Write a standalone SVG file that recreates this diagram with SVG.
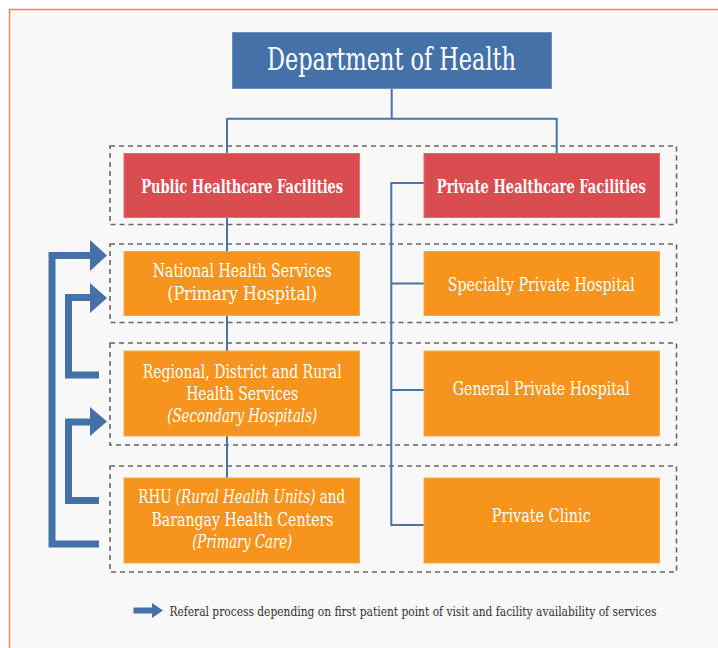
<svg xmlns="http://www.w3.org/2000/svg" width="718" height="648" viewBox="0 0 718 648">
<style>
.t{font-family:"DejaVu Serif Condensed","DejaVu Serif","Liberation Serif",serif;fill:#ffffff;text-anchor:middle;font-size:19px}
.s{text-anchor:start}
.b{font-weight:bold}
.i{font-style:italic}
.red{fill:#d94c4f;stroke:#e46a6c;stroke-width:1}
.org{fill:#f7941d;stroke:#fba94a;stroke-width:1}
.dash{fill:none;stroke:#666666;stroke-width:1.6;stroke-dasharray:5 4}
.ln{fill:none;stroke:#4a73a8;stroke-width:2}
.ref{fill:none;stroke:#4472a8;stroke-width:7;stroke-linejoin:miter}
.head{fill:#4472a8}
</style>
<rect x="9.5" y="9.5" width="720" height="650" fill="#f8f8f8" stroke="#f0845a" stroke-width="1.5"/>

<g id="groups">
<rect class="dash" x="110" y="146" width="566.5" height="78.5"/>
<rect class="dash" x="110" y="244" width="566.5" height="78.5"/>
<rect class="dash" x="110" y="343" width="566.5" height="102"/>
<rect class="dash" x="110" y="466" width="566.5" height="106"/>
</g>

<g id="connectors">
<path class="ln" d="M391.7 88.7 V118.7 M227 118.7 H556.7 M227 118 V478 M556.7 118 V153"/>
<path class="ln" d="M424 183 H391.3 V525 H424 M391.3 283.5 H424 M391.3 390 H424"/>
<path class="ref" d="M99 544 H52 V255.5 H92"/>
<polygon class="head" points="90,240 107,255.5 90,271"/>
<path class="ref" d="M99 375 H68.5 V297.5 H92"/>
<polygon class="head" points="90,283 107,298 90,313"/>
<path class="ref" d="M99 500.5 H68.5 V422 H92"/>
<polygon class="head" points="90,407 107,421.5 90,436"/>
</g>

<g id="doh">
<rect x="232.5" y="32.5" width="319" height="56" fill="#4472a8" stroke="#6d92c2" stroke-width="1"/>
<text class="t" x="391.5" y="70" style="font-size:31px" textLength="249" lengthAdjust="spacingAndGlyphs">Department of Health</text>
</g>

<g id="public">
<rect class="red" x="124" y="153.5" width="235.5" height="64"/>
<text class="t b" x="242.2" y="193" textLength="202" lengthAdjust="spacingAndGlyphs">Public Healthcare Facilities</text>
</g>
<g id="private">
<rect class="red" x="424" y="153.5" width="235.5" height="64"/>
<text class="t b" x="541.3" y="193" textLength="209" lengthAdjust="spacingAndGlyphs">Private Healthcare Facilities</text>
</g>

<g id="national">
<rect class="org" x="124" y="251.5" width="235.5" height="64"/>
<text class="t" x="242.2" y="277" textLength="179" lengthAdjust="spacingAndGlyphs">National Health Services</text>
<text class="t" x="242.2" y="300" textLength="150" lengthAdjust="spacingAndGlyphs">(Primary Hospital)</text>
</g>
<g id="regional">
<rect class="org" x="124" y="351" width="235.5" height="85"/>
<text class="t" x="242.2" y="378" textLength="199" lengthAdjust="spacingAndGlyphs">Regional, District and Rural</text>
<text class="t" x="242.2" y="400" textLength="112" lengthAdjust="spacingAndGlyphs">Health Services</text>
<text class="t i" x="242.2" y="422" textLength="150" lengthAdjust="spacingAndGlyphs">(Secondary Hospitals)</text>
</g>
<g id="rhu">
<rect class="org" x="124" y="478" width="235.5" height="85"/>
<text class="t" transform="translate(241.7 503) scale(0.79 1)" x="0" y="0">RHU <tspan class="i">(Rural Health Units)</tspan> and</text>
<text class="t" x="242.5" y="525.5" textLength="182" lengthAdjust="spacingAndGlyphs">Barangay Health Centers</text>
<text class="t i" x="242.2" y="547.5" textLength="100" lengthAdjust="spacingAndGlyphs">(Primary Care)</text>
</g>

<g id="specialty">
<rect class="org" x="424" y="251.5" width="235.5" height="64"/>
<text class="t" x="541.3" y="290.5" textLength="187" lengthAdjust="spacingAndGlyphs">Specialty Private Hospital</text>
</g>
<g id="general">
<rect class="org" x="424" y="351" width="235.5" height="85"/>
<text class="t" x="541.3" y="395" textLength="177" lengthAdjust="spacingAndGlyphs">General Private Hospital</text>
</g>
<g id="clinic">
<rect class="org" x="424" y="478" width="235.5" height="85"/>
<text class="t" x="541.3" y="522" textLength="99" lengthAdjust="spacingAndGlyphs">Private Clinic</text>
</g>

<g id="legend">
<polygon class="head" points="133.5,607.5 152,607.5 152,603 163,610.5 152,618 152,613.5 133.5,613.5"/>
<text x="169.5" y="615.5" style="font-family:'DejaVu Serif Condensed','DejaVu Serif','Liberation Serif',serif;font-size:13px;fill:#333333" textLength="487" lengthAdjust="spacingAndGlyphs">Referal process depending on first patient point of visit and facility availability of services</text>
</g>
</svg>
